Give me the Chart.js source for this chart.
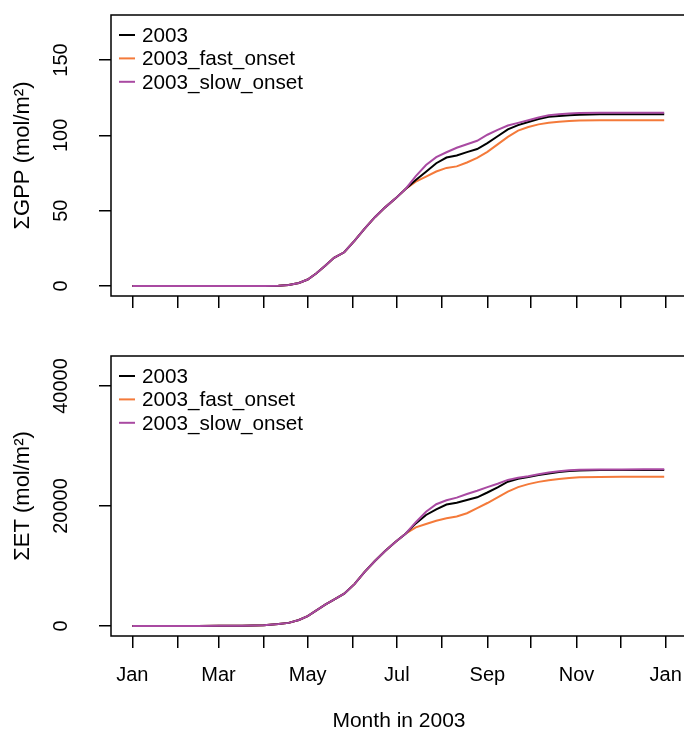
<!DOCTYPE html>
<html>
<head>
<meta charset="utf-8">
<script src="https://cdn.jsdelivr.net/npm/chart.js@4.4.1/dist/chart.umd.min.js"></script>
<style>
  html, body { margin:0; padding:0; background:#fff; overflow:hidden; width:684px; height:734px; }
  canvas { position:absolute; left:0; }
  #top { top:0; }
  #bottom { top:330px; }
</style>
</head>
<body>
<canvas id="top" width="700" height="330"></canvas>
<canvas id="bottom" width="700" height="404"></canvas>
<script>
(function(){

// day of year (0 = 1 Jan 2003)
const days = [0,15,31,45,59,75,90,100,107,114,120,126,132,138,145,152,159,166,173,180,187,
  194,201,208,215,222,229,236,243,250,257,264,271,278,285,292,299,306,320,335,350,364];

// cumulative GPP (mol/m2)
const gpp2003 = [0,0,0,0,0,0,0.05,0.2,0.7,2.0,4.3,8.5,13.5,18.7,22.4,30.0,38.1,45.7,52.2,58.0,64.4,
  70.4,75.9,81.5,85.3,86.6,88.9,90.9,94.8,99.4,104,106.8,108.9,110.9,112.3,112.9,113.4,113.7,114,114,114,114];
const gppFast = [0,0,0,0,0,0,0.05,0.2,0.7,2.0,4.3,8.5,13.5,18.7,22.4,30.0,38.1,45.7,52.2,58.0,64.4,
  69.3,72.6,76,78.4,79.4,82,85,89,94,99,103.2,105.5,107.3,108.4,109.1,109.6,109.9,110,110,110,110];
const gppSlow = [0,0,0,0,0,0,0.05,0.2,0.7,2.0,4.3,8.5,13.5,18.7,22.4,30.0,38.1,45.7,52.2,58.0,64.4,
  73,80.3,85.5,88.8,91.8,94.1,96.4,100.4,103.6,106.5,108.3,110,111.8,113.4,114,114.5,114.8,115,115,115,115];

// cumulative ET (mol/m2)
const et2003 = [0,0,10,20,30,60,140,330,520,1000,1650,2590,3550,4410,5390,6980,9010,10840,12500,14010,15370,
  17100,18500,19450,20250,20550,21000,21450,22250,23100,24050,24550,24850,25150,25430,25650,25850,25930,25980,26000,26000,26000];
const etFast = [0,0,10,20,30,60,140,330,520,1000,1650,2590,3550,4410,5390,6980,9010,10840,12500,14010,15370,
  16450,17000,17550,17950,18250,18800,19650,20500,21450,22400,23150,23650,24020,24300,24500,24650,24780,24850,24880,24890,24890];
const etSlow = [0,0,10,20,30,60,140,330,520,1000,1650,2590,3550,4410,5390,6980,9010,10840,12500,14010,15370,
  17300,19050,20300,20950,21400,22000,22550,23150,23700,24350,24700,24970,25300,25600,25780,25950,26030,26080,26100,26110,26110];

const seriesNames = ["2003","2003_fast_onset","2003_slow_onset"];
const monthStarts = [0,31,59,90,120,151,181,212,243,273,304,334,365];
const monthLabels = ["Jan","","Mar","","May","","Jul","","Sep","","Nov","","Jan"];
const gppTicks = [0,50,100,150];
const etTicks = [0,20000,40000];

const cores = ["#000000","#F47A3A","#A94AA2"];
const ordem = [1,2,0]; // slow onset drawn on top

Chart.defaults.font.family = "'Liberation Sans', Arial, Helvetica, sans-serif";
Chart.defaults.color = "#000";

function pontos(arr){
  return days.map((d,i)=>({x:d, y:arr[i]}));
}

// box around plot region
const caixa = {
  id:"caixa",
  afterDraw(chart){
    const a = chart.chartArea, ctx = chart.ctx;
    ctx.save();
    ctx.strokeStyle = "#000";
    ctx.lineWidth = 1.5;
    ctx.strokeRect(a.left, a.top, a.right-a.left, a.bottom-a.top);
    ctx.restore();
  }
};

// legend in top-left corner, R style
const legenda = {
  id:"legenda",
  afterDatasetsDraw(chart){
    const a = chart.chartArea, ctx = chart.ctx;
    ctx.save();
    ctx.font = "20.7px 'Liberation Sans', Arial, sans-serif";
    ctx.textBaseline = "middle";
    ctx.fillStyle = "#000";
    chart.data.datasets.forEach((ds,i)=>{
      const y = a.top + 20.5 + i*23.4;
      ctx.strokeStyle = ds.borderColor;
      ctx.lineWidth = 2;
      ctx.beginPath();
      ctx.moveTo(a.left+8, y-0.5);
      ctx.lineTo(a.left+24, y-0.5);
      ctx.stroke();
      ctx.fillText(ds.label, a.left+31, y+0.5);
    });
    ctx.restore();
  }
};

function grafico(id, series, yTicks, yMin, yMax, yTitle, comLabels, padTop, yPad){

  const datasets = series.map((s,i)=>({
    label: seriesNames[i],
    data: pontos(s),
    borderColor: cores[i],
    borderWidth: 2,
    pointRadius: 0,
    tension: 0,
    order: ordem[i]
  }));

  return new Chart(document.getElementById(id),{
    type:"line",
    data:{datasets},
    plugins:[caixa, legenda],
    options:{
      responsive:false,
      animation:false,
      devicePixelRatio:1,
      layout:{padding:{top:padTop, right:13, left:0, bottom:0}},
      plugins:{legend:{display:false}, tooltip:{enabled:false}},
      scales:{
        x:{
          type:"linear",
          min:-14.6, max:379.6,
          afterBuildTicks: s => { s.ticks = monthStarts.map(v=>({value:v})); },
          afterFit: s => { s.height = comLabels ? 98 : 34; s.paddingLeft = 0; s.paddingRight = 0; },
          grid:{drawOnChartArea:false, drawTicks:true, tickLength:12, color:"#000", lineWidth:1.5},
          border:{display:false},
          ticks:{
            autoSkip:false, maxRotation:0, minRotation:0, padding:15,
            font:{size:20}, color:"#000",
            callback:(v,i)=> comLabels ? monthLabels[i] : ""
          },
          title:{display:comLabels, text:"Month in 2003", font:{size:21}, color:"#000", padding:{top:0,bottom:0}}
        },
        y:{
          min:yMin, max:yMax,
          afterBuildTicks: s => { s.ticks = yTicks.map(v=>({value:v})); },
          afterFit: s => { s.width = 111; s.paddingTop = 0; s.paddingBottom = 0; },
          grid:{drawOnChartArea:false, drawTicks:true, tickLength:12, color:"#000", lineWidth:1.5},
          border:{display:false},
          ticks:{
            autoSkip:false, minRotation:90, maxRotation:90, crossAlign:"center", padding:yPad,
            font:{size:20}, color:"#000",
            callback:v=>String(v)
          },
          title:{display:true, text:yTitle, font:{size:22}, color:"#000", padding:{top:10,bottom:0}}
        }
      }
    }
  });
}

grafico("top", [gpp2003, gppFast, gppSlow], gppTicks, -6.64, 179.9, "ΣGPP (mol/m²)", false, 15, 21);
grafico("bottom", [et2003, etFast, etSlow], etTicks, -1667, 45000, "ΣET (mol/m²)", true, 26, 10);

})();
</script>
</body>
</html>
